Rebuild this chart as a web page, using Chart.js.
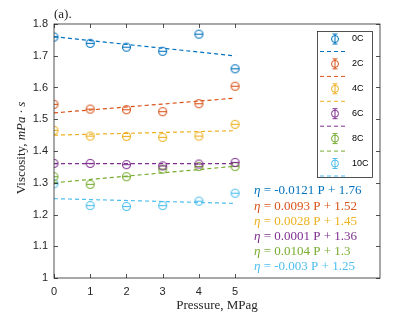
<!DOCTYPE html>
<html>
<head>
<meta charset="utf-8">
<script src="https://cdn.jsdelivr.net/npm/chart.js@4/dist/chart.umd.min.js"></script>
<style>
  html, body { margin: 0; padding: 0; background: #fff; }
  #wrap { width: 420px; height: 315px; }
</style>
</head>
<body>
<div id="wrap"><canvas id="chart" width="420" height="315"></canvas></div>
<script>
// Data
const pressures = [0, 1, 2, 3, 4, 5];
const temps = ['0C', '2C', '4C', '6C', '8C', '10C'];
const visc0C  = [1.759, 1.739, 1.727, 1.714, 1.768, 1.659];
const visc2C  = [1.547, 1.532, 1.530, 1.524, 1.549, 1.604];
const visc4C  = [1.465, 1.447, 1.446, 1.443, 1.447, 1.484];
const visc6C  = [1.361, 1.361, 1.357, 1.353, 1.359, 1.364];
const visc8C  = [1.319, 1.295, 1.319, 1.343, 1.351, 1.351];
const visc10C = [1.297, 1.228, 1.225, 1.228, 1.242, 1.267];
const slopes = [-0.0121, 0.0093, 0.0028, 0.0001, 0.0104, -0.003];
const intercepts = [1.76, 1.52, 1.45, 1.36, 1.3, 1.25];
const slopeText = ['-0.0121', '0.0093', '0.0028', '0.0001', '0.0104', '-0.003'];
const interceptText = ['1.76', '1.52', '1.45', '1.36', '1.3', '1.25'];
const xTicks = [0, 1, 2, 3, 4, 5];
const yTicks = [1, 1.1, 1.2, 1.3, 1.4, 1.5, 1.6, 1.7, 1.8];

const allVisc = [visc0C, visc2C, visc4C, visc6C, visc8C, visc10C];
const colors = ['#0072BD', '#D95319', '#EDB120', '#7E2F8E', '#77AC30', '#4DBEEE'];
const axisColor = '#262626';
const serif = "'Liberation Serif', 'Times New Roman', serif";
const sans = "'Liberation Sans', Arial, sans-serif";

// circle marker with a short horizontal error cap through it
function makeMarker(color) {
    const c = document.createElement('canvas');
    c.width = 11; c.height = 11;
    const g = c.getContext('2d');
    g.strokeStyle = color;
    g.lineWidth = 1.1;
    g.beginPath();
    g.arc(5.5, 5.5, 4, 0, Math.PI * 2);
    g.stroke();
    g.beginPath();
    g.moveTo(1.5, 5.5); g.lineTo(9.5, 5.5);
    g.stroke();
    return c;
}
const markers = colors.map(makeMarker);

const datasets = [];
temps.forEach((t, i) => {
    datasets.push({
        type: 'scatter',
        label: t,
        data: pressures.map((p, j) => ({ x: p, y: allVisc[i][j] })),
        pointStyle: markers[i],
        borderColor: colors[i],
        backgroundColor: colors[i],
        order: 1
    });
    datasets.push({
        type: 'line',
        label: 'fit ' + t,
        data: [0, 5].map(p => ({ x: p, y: slopes[i] * p + intercepts[i] })),
        borderColor: colors[i],
        borderWidth: 1.2,
        borderDash: [4, 3],
        pointRadius: 0,
        fill: false,
        order: 2
    });
});

// MATLAB-style box with inward ticks, titles, legend and equations
const decorPlugin = {
    id: 'decor',
    afterDraw(chart) {
        const ctx = chart.ctx;
        const a = chart.chartArea;
        const xs = chart.scales.x, ys = chart.scales.y;
        ctx.save();
        ctx.strokeStyle = axisColor;
        ctx.lineWidth = 0.8;
        ctx.strokeRect(a.left, a.top, a.right - a.left, a.bottom - a.top);
        ctx.beginPath();
        yTicks.forEach(v => {
            const y = Math.round(ys.getPixelForValue(v)) + 0.5;
            ctx.moveTo(a.left, y); ctx.lineTo(a.left + 4, y);
            ctx.moveTo(a.right, y); ctx.lineTo(a.right - 4, y);
        });
        xTicks.forEach(v => {
            const x = Math.round(xs.getPixelForValue(v)) + 0.5;
            ctx.moveTo(x, a.bottom); ctx.lineTo(x, a.bottom - 4);
            ctx.moveTo(x, a.top); ctx.lineTo(x, a.top + 4);
        });
        ctx.stroke();

        // panel label
        ctx.fillStyle = axisColor;
        ctx.font = '13px ' + serif;
        ctx.textAlign = 'left';
        ctx.textBaseline = 'middle';
        ctx.fillText('(a).', 54, 15);

        // x label
        ctx.textAlign = 'center';
        ctx.fillText('Pressure, MPag', (a.left + a.right) / 2, 306);

        // y label: "Viscosity, " + italic "mPa · s"
        ctx.save();
        ctx.translate(22, 148);
        ctx.rotate(-Math.PI / 2);
        ctx.textAlign = 'left';
        ctx.textBaseline = 'middle';
        const p1 = 'Viscosity, ';
        const p2 = 'mPa · s';
        ctx.font = '13px ' + serif;
        const w1 = ctx.measureText(p1).width;
        ctx.font = 'italic 13px ' + serif;
        const w2 = ctx.measureText(p2).width;
        const sx = -(w1 + w2) / 2;
        ctx.font = '13px ' + serif;
        ctx.fillText(p1, sx, 0);
        ctx.font = 'italic 13px ' + serif;
        ctx.fillText(p2, sx + w1, 0);
        ctx.restore();

        // legend box
        const lx = 317, ly = 31, lw = 55, lh = 146;
        ctx.fillStyle = '#fff';
        ctx.fillRect(lx, ly, lw, lh);
        ctx.strokeStyle = axisColor;
        ctx.lineWidth = 0.8;
        ctx.strokeRect(lx + 0.5, ly + 0.5, lw, lh);
        temps.forEach((t, i) => {
            const ey = 39 + i * 24.9;
            // marker with vertical error bar
            ctx.strokeStyle = colors[i];
            ctx.lineWidth = 1;
            ctx.beginPath();
            ctx.moveTo(335, ey - 5); ctx.lineTo(335, ey + 5);
            ctx.moveTo(332.5, ey - 5); ctx.lineTo(337.5, ey - 5);
            ctx.moveTo(332.5, ey + 5); ctx.lineTo(337.5, ey + 5);
            ctx.stroke();
            ctx.beginPath();
            ctx.arc(335, ey, 3.5, 0, Math.PI * 2);
            ctx.stroke();
            ctx.fillStyle = '#000';
            ctx.font = '9px ' + sans;
            ctx.textAlign = 'left';
            ctx.textBaseline = 'middle';
            ctx.fillText(t, 352, ey);
            // dashed fit line sample
            ctx.setLineDash([4, 3]);
            ctx.beginPath();
            ctx.moveTo(320, ey + 12.5); ctx.lineTo(348, ey + 12.5);
            ctx.stroke();
            ctx.setLineDash([]);
        });

        // fit equations
        temps.forEach((t, i) => {
            const ey = 191 + i * 15.2;
            ctx.fillStyle = colors[i];
            ctx.textBaseline = 'middle';
            ctx.textAlign = 'left';
            ctx.font = 'italic 13px ' + serif;
            ctx.fillText('η', 254, ey);
            const x = 254 + ctx.measureText('η').width;
            ctx.font = '13px ' + serif;
            ctx.fillText(' = ' + slopeText[i] + ' P + ' + interceptText[i], x, ey);
        });
        ctx.restore();
    }
};

new Chart(document.getElementById('chart').getContext('2d'), {
    data: { datasets: datasets },
    options: {
        responsive: false,
        animation: false,
        layout: { padding: { top: 24, right: 40, left: 0, bottom: 0 } },
        plugins: {
            legend: { display: false },
            tooltip: { enabled: false }
        },
        scales: {
            x: {
                type: 'linear',
                min: 0, max: 9,
                afterBuildTicks: s => { s.ticks = xTicks.map(v => ({ value: v })); },
                afterFit: s => { s.height = 37; },
                grid: { display: false, drawTicks: false },
                border: { display: false },
                ticks: { color: axisColor, font: { family: sans, size: 11 }, padding: 7 }
            },
            y: {
                type: 'linear',
                min: 1, max: 1.8,
                afterBuildTicks: s => { s.ticks = yTicks.map(v => ({ value: v })); },
                afterFit: s => { s.width = 54; },
                grid: { display: false, drawTicks: false },
                border: { display: false },
                ticks: {
                    color: axisColor,
                    font: { family: sans, size: 11 },
                    padding: 6,
                    callback: v => v === 1 ? '1' : v.toFixed(1)
                }
            }
        }
    },
    plugins: [decorPlugin]
});
</script>
</body>
</html>
